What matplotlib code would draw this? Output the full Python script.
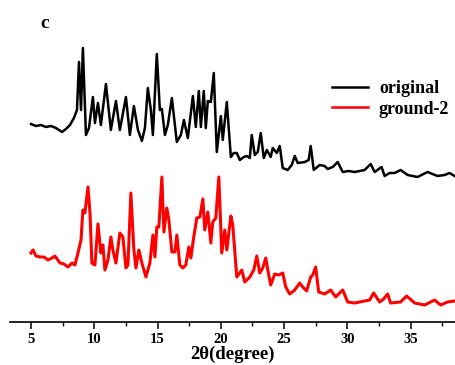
import matplotlib
matplotlib.use("Agg")
from matplotlib import pyplot as plt
from matplotlib.ticker import MultipleLocator

# diffraction angle (2theta) and intensity (a.u.)
orig_x = [5.00, 5.39, 5.79, 6.18, 6.58, 6.97, 7.45, 7.76, 8.08, 8.39, 8.63, 8.79, 8.95, 9.10, 9.34,
          9.58, 9.89, 10.05, 10.29, 10.52, 10.92, 11.31, 11.71, 12.02, 12.50, 12.81, 13.13, 13.45,
          13.76, 14.00, 14.23, 14.47, 14.63, 14.94, 15.18, 15.34, 15.58, 15.81, 16.13, 16.52, 16.84,
          17.08, 17.39, 17.79, 18.02, 18.26, 18.42, 18.65, 18.81, 18.97, 19.21, 19.44, 19.68, 20.00,
          20.15, 20.47, 20.79, 21.02, 21.26, 21.50, 21.81, 22.05, 22.29, 22.44, 22.68, 22.92, 23.15,
          23.39, 23.63, 23.94, 24.10, 24.42, 24.65, 24.89, 25.28, 25.60, 25.84, 26.07, 26.63, 26.94,
          27.10, 27.34, 27.81, 28.20, 28.44, 28.84, 29.23, 29.63, 30.10, 30.57, 31.36, 31.84, 32.15,
          32.70, 32.94, 33.33, 33.73, 34.20, 34.76, 35.54, 36.33, 37.12, 37.68, 38.07, 38.46]
orig_y = [198, 196, 197, 195, 196, 194, 190, 193, 197, 204, 212, 260, 212, 274, 187,
          194, 225, 199, 219, 197, 238, 192, 221, 192, 225, 187, 216, 192,
          181, 194, 234, 212, 187, 268, 212, 213, 187, 197, 224, 180, 187,
          202, 184, 226, 195, 231, 195, 231, 194, 221, 220, 249, 170, 206,
          182, 220, 165, 169, 169, 162, 165, 166, 164, 187, 167, 170, 189,
          164, 172, 165, 174, 169, 176, 154, 152, 157, 166, 159, 160, 162,
          176, 152, 157, 156, 153, 155, 160, 150, 151, 150, 152, 158, 150,
          155, 146, 149, 149, 152, 147, 145, 150, 146, 147, 149, 146]

ground_x = [5.00, 5.16, 5.39, 5.71, 6.03, 6.34, 6.66, 6.89, 7.29, 7.60, 7.92, 8.24, 8.47, 8.71, 8.95,
            9.10, 9.26, 9.50, 9.66, 9.81, 10.05, 10.29, 10.52, 10.68, 10.84, 11.08, 11.31, 11.47,
            11.71, 12.02, 12.26, 12.50, 12.66, 12.89, 13.13, 13.29, 13.52, 13.76, 14.08, 14.39,
            14.63, 14.79, 14.94, 15.10, 15.34, 15.50, 15.73, 15.89, 16.13, 16.37, 16.52, 16.76,
            17.00, 17.23, 17.47, 17.63, 17.87, 18.10, 18.34, 18.58, 18.73, 18.97, 19.21, 19.36,
            19.60, 19.84, 20.07, 20.31, 20.47, 20.79, 20.94, 21.26, 21.65, 21.89, 22.29, 22.60,
            22.84, 23.07, 23.31, 23.55, 23.71, 23.94, 24.26, 24.57, 24.89, 25.13, 25.44, 25.84,
            26.23, 26.47, 26.78, 27.10, 27.26, 27.49, 27.73, 28.20, 28.68, 29.07, 29.47, 29.63,
            30.02, 30.57, 31.36, 31.76, 32.07, 32.55, 32.86, 33.18, 33.41, 34.20, 34.68, 35.31,
            36.10, 36.89, 37.36, 37.91, 38.46]
ground_y = [69, 72, 66, 65, 65, 62, 64, 66, 59, 58, 55, 59, 57, 69, 82,
            112, 109, 135, 109, 59, 57, 98, 69, 77, 52, 62, 85, 72,
            59, 89, 85, 54, 57, 129, 72, 54, 72, 59, 45, 59,
            87, 65, 95, 95, 145, 90, 114, 102, 70, 70, 87, 57,
            54, 57, 75, 64, 86, 104, 105, 123, 92, 110, 79, 100,
            104, 145, 69, 92, 72, 106, 97, 45, 52, 40, 45, 52,
            66, 49, 54, 64, 52, 37, 48, 47, 49, 35, 28, 32,
            39, 35, 31, 45, 47, 55, 30, 28, 32, 25, 30, 32,
            20, 19, 21, 22, 29, 20, 23, 28, 19, 20, 26, 19,
            17, 22, 17, 20, 21]

tick_vals = [5, 10, 15, 20, 25, 30, 35]

serif = "Liberation Serif"

fig = plt.figure(figsize=(4.56, 3.65), dpi=100)
ax = fig.add_axes([10 / 456, 43 / 365, 445 / 456, 312 / 365])

ax.plot(orig_x, orig_y, color="black", lw=1.8, solid_joinstyle="round", label="original")
ax.plot(ground_x, ground_y, color="red", lw=2.2, solid_joinstyle="round", label="ground-2")

ax.set_xlim(3.34, 38.5)
ax.set_ylim(0, 312)

for side in ["left", "right", "top"]:
    ax.spines[side].set_visible(False)
ax.spines["bottom"].set_linewidth(1.2)
ax.set_yticks([])

ax.set_xticks(tick_vals)
ax.xaxis.set_minor_locator(MultipleLocator(2.5))
ax.tick_params(axis="x", which="major", direction="out", length=5, width=1.1, pad=3)
ax.tick_params(axis="x", which="minor", direction="out", length=3, width=1.0)
for lab in ax.get_xticklabels():
    lab.set_fontfamily(serif)
    lab.set_fontweight("bold")
    lab.set_fontsize(10.5)

ax.set_xlabel("2θ(degree)", fontfamily=serif, fontweight="bold", fontsize=13.5, labelpad=0)

leg = ax.legend(loc="upper left", bbox_to_anchor=((332 - 10) / 445, (322 - 80) / 312),
                frameon=False, borderaxespad=0, borderpad=0,
                handlelength=2.0, handletextpad=0.6, labelspacing=0.2,
                prop={"family": serif, "weight": "bold", "size": 13})
for line in leg.get_lines():
    line.set_linewidth(1.8)

fig.text(40 / 456, 1 - 28 / 365, "c", fontfamily=serif, fontweight="bold", fontsize=14)

fig.savefig("out.png", dpi=100)
